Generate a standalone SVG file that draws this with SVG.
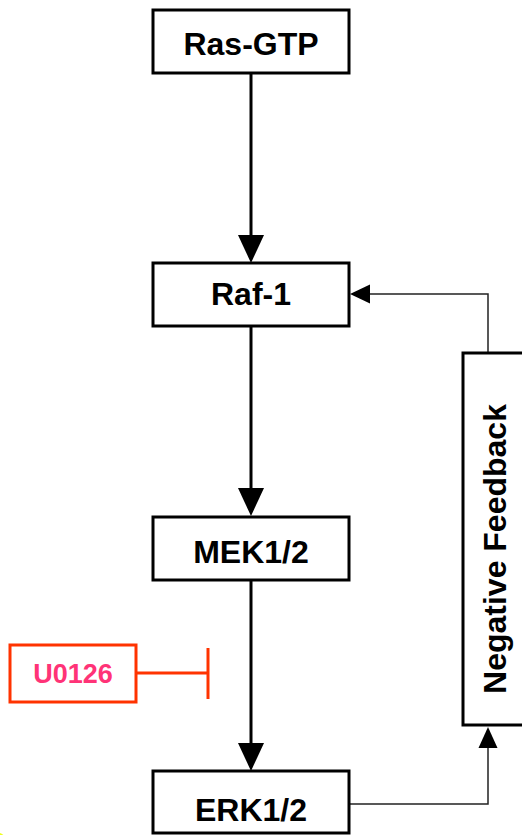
<svg xmlns="http://www.w3.org/2000/svg" width="522" height="835" viewBox="0 0 522 835">
<style>
.box{fill:#fff;stroke:#000;stroke-width:3}
.lbl{font-family:"Liberation Sans",Arial,sans-serif;font-weight:bold;font-size:32px;fill:#000;text-anchor:middle}
.main{stroke:#000;stroke-width:3;fill:none}
.fb{stroke:#222;stroke-width:1.5;fill:none}
.red{stroke:#FF3300;stroke-width:3;fill:none}
</style>
<rect width="522" height="835" fill="#fff"/>
<circle cx="-6" cy="848" r="16" fill="#EEFF22"/>
<g id="connectors">
<line class="main" x1="251" y1="73" x2="251" y2="237"/>
<polygon points="251,263 238,235 264,235" fill="#000"/>
<line class="main" x1="251" y1="326" x2="251" y2="490"/>
<polygon points="251,516 238,488 264,488" fill="#000"/>
<line class="main" x1="251" y1="580" x2="251" y2="745"/>
<polygon points="251,771 238,743 264,743" fill="#000"/>
<polyline class="fb" points="488,353 488,294 368,294"/>
<polygon points="350,294 370,284.5 370,303.5" fill="#000"/>
<polyline class="fb" points="349,804 488,804 488,746"/>
<polygon points="488,727 478.5,748 497.5,748" fill="#000"/>
<line class="red" x1="136" y1="673" x2="208" y2="673"/>
<line class="red" x1="208" y1="648" x2="208" y2="699"/>
</g>
<g id="ras-gtp">
<rect class="box" x="153" y="10" width="196" height="63"/>
<text class="lbl" x="251" y="55">Ras-GTP</text>
</g>
<g id="raf-1">
<rect class="box" x="153" y="263" width="196" height="63"/>
<text class="lbl" x="251" y="305">Raf-1</text>
</g>
<g id="mek">
<rect class="box" x="153" y="517" width="196" height="63"/>
<text class="lbl" x="251" y="563">MEK1/2</text>
</g>
<g id="erk">
<rect class="box" x="153" y="771" width="196" height="62"/>
<text class="lbl" x="251" y="821">ERK1/2</text>
</g>
<g id="negative-feedback">
<rect class="box" x="463" y="353" width="80" height="372"/>
<text class="lbl" transform="translate(506,549) rotate(-90)" x="0" y="0">Negative Feedback</text>
</g>
<g id="u0126">
<rect x="10" y="645" width="126" height="57" fill="#fff" stroke="#FF3300" stroke-width="3"/>
<text x="73" y="683" font-family="Liberation Sans,Arial,sans-serif" font-weight="bold" font-size="27" fill="#FF3377" text-anchor="middle">U0126</text>
</g>
</svg>
